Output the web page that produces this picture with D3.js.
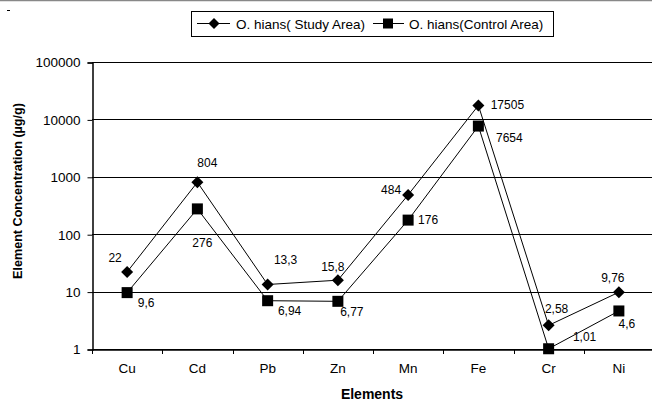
<!DOCTYPE html>
<html>
<head>
<meta charset="utf-8">
<script src="https://cdn.jsdelivr.net/npm/d3@7"></script>
<style>
  body { margin: 0; background: #fff; }
  svg { font-family: "Liberation Sans", Arial, sans-serif; }
</style>
</head>
<body>
<svg id="chart" width="652" height="401"></svg>
<script>
// data
const elements = ["Cu", "Cd", "Pb", "Zn", "Mn", "Fe", "Cr", "Ni"];
const studyArea = [22, 804, 13.3, 15.8, 484, 17505, 2.58, 9.76];
const controlArea = [9.6, 276, 6.94, 6.77, 176, 7654, 1.01, 4.6];
const studyLabels = ["22", "804", "13,3", "15,8", "484", "17505", "2,58", "9,76"];
const controlLabels = ["9,6", "276", "6,94", "6,77", "176", "7654", "1,01", "4,6"];
const yTicks = [1, 10, 100, 1000, 10000, 100000];

// label offsets (dx, dy from the marker)
const studyOffsets = [[-12, -14], [10, -19], [18, -25], [-5, -13], [-17, -5], [29, -1], [8, -17], [-6, -14]];
const controlOffsets = [[19, 10], [5, 34], [22, 10], [14, 10], [20, 0], [31, 12], [36, -12], [8, 13]];

document.addEventListener('DOMContentLoaded', function() {
  drawChart();
});

function drawChart() {
  const svg = d3.select('#chart');
  const margin = { left: 92, top: 62, bottom: 349 };
  const plotRight = 654;

  // top rule and stray dash
  svg.append('line')
    .attr('x1', 0).attr('x2', 652).attr('y1', 0.5).attr('y2', 0.5)
    .attr('stroke', '#888').attr('stroke-width', 1.5);
  svg.append('line')
    .attr('x1', 7).attr('x2', 10).attr('y1', 10.5).attr('y2', 10.5)
    .attr('stroke', '#000');

  const xScale = d3.scaleBand()
    .domain(elements)
    .range([margin.left, plotRight]);

  const yScale = d3.scaleLog()
    .domain([1, 100000])
    .range([margin.bottom, margin.top]);

  // gridlines
  svg.append('g')
    .selectAll('line')
    .data(yTicks)
    .enter()
    .append('line')
    .attr('x1', margin.left)
    .attr('x2', plotRight)
    .attr('y1', d => Math.round(yScale(d)) + 0.5)
    .attr('y2', d => Math.round(yScale(d)) + 0.5)
    .attr('stroke', '#000')
    .attr('stroke-width', 1);

  // y axis
  const yAxis = d3.axisLeft(yScale)
    .tickValues(yTicks)
    .tickFormat(d3.format('d'))
    .tickSize(5)
    .tickPadding(7);
  const yg = svg.append('g')
    .attr('transform', `translate(${margin.left + 0.5}, 0.5)`)
    .call(yAxis);
  yg.select('.domain').attr('stroke', '#000').attr('stroke-width', 1.5);
  yg.selectAll('text').attr('font-size', 13.5).attr('fill', '#000');
  yg.selectAll('.tick line').attr('stroke', '#000');

  // x axis
  const xAxis = d3.axisBottom(xScale)
    .tickSize(0)
    .tickPadding(14);
  const xg = svg.append('g')
    .attr('transform', `translate(0, ${margin.bottom + 0.5})`)
    .call(xAxis);
  xg.select('.domain').attr('stroke', '#000').attr('stroke-width', 1.5);
  xg.selectAll('text').attr('font-size', 13.5).attr('fill', '#000');

  // x tick marks at band edges
  svg.append('g')
    .selectAll('line')
    .data(elements)
    .enter()
    .append('line')
    .attr('x1', d => Math.round(xScale(d)) + 0.5)
    .attr('x2', d => Math.round(xScale(d)) + 0.5)
    .attr('y1', margin.bottom)
    .attr('y2', margin.bottom + 5)
    .attr('stroke', '#000');

  // axis titles
  svg.append('text')
    .attr('x', 372)
    .attr('y', 399)
    .attr('text-anchor', 'middle')
    .attr('font-size', 14)
    .attr('font-weight', 'bold')
    .text('Elements');

  svg.append('text')
    .attr('transform', 'translate(22, 191) rotate(-90)')
    .attr('text-anchor', 'middle')
    .attr('font-size', 12.6)
    .attr('font-weight', 'bold')
    .text('Element Concentration (µg/g)');

  const cx = d => xScale(d) + xScale.bandwidth() / 2;

  const line = d3.line()
    .x((d, i) => cx(elements[i]))
    .y(d => yScale(d));

  svg.append('path')
    .datum(controlArea)
    .attr('d', line)
    .attr('fill', 'none')
    .attr('stroke', '#000')
    .attr('stroke-width', 1);

  svg.append('path')
    .datum(studyArea)
    .attr('d', line)
    .attr('fill', 'none')
    .attr('stroke', '#000')
    .attr('stroke-width', 1);

  const diamond = d3.symbol().type(d3.symbolSquare).size(72);

  svg.append('g')
    .selectAll('path')
    .data(studyArea)
    .enter()
    .append('path')
    .attr('d', diamond)
    .attr('transform', (d, i) => `translate(${cx(elements[i])}, ${yScale(d)}) rotate(45)`)
    .attr('fill', '#000');

  svg.append('g')
    .selectAll('rect')
    .data(controlArea)
    .enter()
    .append('rect')
    .attr('x', (d, i) => cx(elements[i]) - 5.5)
    .attr('y', d => yScale(d) - 5.5)
    .attr('width', 11)
    .attr('height', 11)
    .attr('fill', '#000');

  // data labels
  svg.append('g')
    .selectAll('text')
    .data(studyArea)
    .enter()
    .append('text')
    .attr('x', (d, i) => cx(elements[i]) + studyOffsets[i][0])
    .attr('y', (d, i) => yScale(d) + studyOffsets[i][1])
    .attr('dy', '0.35em')
    .attr('text-anchor', 'middle')
    .attr('font-size', 12)
    .text((d, i) => studyLabels[i]);

  svg.append('g')
    .selectAll('text')
    .data(controlArea)
    .enter()
    .append('text')
    .attr('x', (d, i) => cx(elements[i]) + controlOffsets[i][0])
    .attr('y', (d, i) => yScale(d) + controlOffsets[i][1])
    .attr('dy', '0.35em')
    .attr('text-anchor', 'middle')
    .attr('font-size', 12)
    .text((d, i) => controlLabels[i]);

  // legend
  const legend = svg.append('g').attr('class', 'legend');
  legend.append('rect')
    .attr('x', 191.5).attr('y', 11.5)
    .attr('width', 362).attr('height', 25)
    .attr('fill', '#fff').attr('stroke', '#000');

  legend.append('line')
    .attr('x1', 197).attr('x2', 230).attr('y1', 23.5).attr('y2', 23.5)
    .attr('stroke', '#000');
  legend.append('path')
    .attr('d', d3.symbol().type(d3.symbolSquare).size(60))
    .attr('transform', 'translate(214, 23.5) rotate(45)')
    .attr('fill', '#000');
  legend.append('text')
    .attr('x', 236).attr('y', 28.5)
    .attr('font-size', 13.5)
    .text('O. hians( Study Area)');

  legend.append('line')
    .attr('x1', 373).attr('x2', 404).attr('y1', 23.5).attr('y2', 23.5)
    .attr('stroke', '#000');
  legend.append('rect')
    .attr('x', 383).attr('y', 18.5).attr('width', 10).attr('height', 10)
    .attr('fill', '#000');
  legend.append('text')
    .attr('x', 409).attr('y', 28.5)
    .attr('font-size', 13.5)
    .text('O. hians(Control Area)');
}
</script>
</body>
</html>
